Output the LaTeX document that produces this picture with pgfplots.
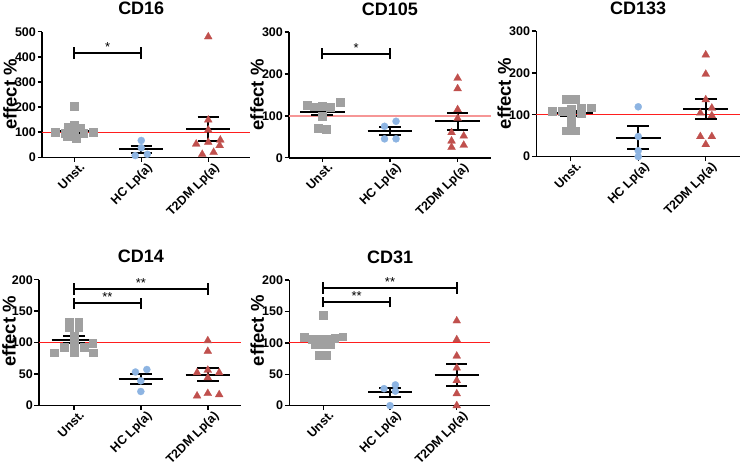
\documentclass[border=0pt]{standalone}
\usepackage{fontspec}
\setmainfont{Liberation Sans}
\usepackage{pgfplots}
\pgfplotsset{compat=1.18}
\definecolor{sqgray}{RGB}{160,160,160}
\definecolor{cblue}{RGB}{141,180,226}
\definecolor{tred}{RGB}{192,80,77}
\definecolor{lpink}{RGB}{246,150,150}
\definecolor{refred}{RGB}{255,30,30}
\pgfplotsset{
 cd/.style={
  scale only axis, clip=false, height=125.6pt, ymin=0,
  axis x line*=bottom, axis y line*=left,
  axis line style={line width=1.6pt, black},
  tick align=outside, major tick length=4.5pt,
  every tick/.style={black, line width=1.4pt},
  xtick={0,1,2}, xticklabels={Unst., HC Lp(a), T2DM Lp(a)},
  xticklabel style={xshift=5pt, yshift=1.5pt, rotate=45, anchor=north east, inner sep=1pt, font=\bfseries\fontsize{12.5}{15}\selectfont},
  yticklabel style={font=\bfseries\fontsize{12.5}{14}\selectfont, inner sep=1.5pt},
  /pgf/number format/assume math mode=true,
  ylabel={effect \%},
  every axis y label/.style={at={([xshift=-32pt]axis description cs:0,0.5)}, rotate=90, anchor=center, font=\bfseries\fontsize{18.5}{20}\selectfont},
  unbounded coords=jump,
 },
 gsq/.style={only marks, color=sqgray, mark=square*, mark size=3.9pt, mark options={draw=sqgray, fill=sqgray, line width=0.2pt}},
 bci/.style={only marks, color=cblue, mark=*, mark size=3.6pt, mark options={draw=cblue, fill=cblue, line width=0.2pt}},
 rtr/.style={only marks, color=tred, mark=triangle*, mark size=4.6pt, mark options={draw=tred, fill=tred, line width=0.2pt}},
 msem/.style={black, line width=2pt, mark=none},
 refl/.style={draw=refred, color=refred, line width=1.3pt, mark=none},
}
\newcommand{\ttl}[2]{\node[anchor=base, font=\bfseries\fontsize{18}{20}\selectfont] at ([yshift=17pt]axis cs:1,#1) {#2};}
\newcommand{\str}[3]{\node[anchor=base, inner sep=0pt, font=\fontsize{13}{13}\selectfont] at ([yshift=1.5pt]axis cs:#1,#2) {#3};}
\begin{document}
\begin{tikzpicture}
\useasboundingbox (0pt,0pt) rectangle (740pt,467pt);
% ---------------- CD16
\begin{axis}[cd, at={(42.1pt,309.7pt)}, anchor=south west, width=207.7pt,
  xmin=-0.48, xmax=2.62, ymax=500, ytick={0,100,200,300,400,500}]
\addplot[refl] coordinates {(-0.48,100) (2.62,100)};
\addplot[gsq] coordinates {(0,205) (0,129) (-0.09,122) (0.09,118) (-0.29,101) (0.28,100) (-0.14,97) (0.14,95) (0,103) (-0.11,83) (0.03,76)};
\addplot[bci] coordinates {(1,67) (0.91,7) (1.09,12) (1,38)};
\addplot[rtr] coordinates {(2,480) (2,149) (2,109) (2,60) (1.82,53) (2.18,69) (2.17,47) (1.91,12) (2.08,20)};
\addplot[msem] coordinates {(-0.33,105) (0.33,105) (nan,nan) (0,96) (0,115) (nan,nan) (-0.16,96) (0.16,96) (nan,nan) (-0.16,115) (0.16,115)};
\addplot[msem] coordinates {(0.67,32) (1.33,32) (nan,nan) (1,19) (1,46) (nan,nan) (0.84,19) (1.16,19) (nan,nan) (0.84,46) (1.16,46)};
\addplot[msem] coordinates {(1.67,112) (2.33,112) (nan,nan) (2,63) (2,161) (nan,nan) (1.84,63) (2.16,63) (nan,nan) (1.84,161) (2.16,161)};
\addplot[msem] coordinates {(0,393) (0,439) (nan,nan) (0,416) (1,416) (nan,nan) (1,393) (1,439)};
\str{0.5}{416}{*}
\ttl{500}{CD16}
\end{axis}
% ---------------- CD105
\begin{axis}[cd, at={(289.1pt,309.3pt)}, anchor=south west, width=201.7pt,
  xmin=-0.49, xmax=2.49, ymax=300, ytick={0,100,200,300}]
\addplot[lpink, line width=1.6pt] coordinates {(-0.49,100) (2.49,100)};
\addplot[gsq] coordinates {(-0.23,125) (-0.12,122) (0,124) (0.11,121) (0.26,132) (0,100) (-0.06,70) (0.06,69)};
\addplot[bci] coordinates {(0.92,75) (1.09,87) (0.92,45) (1.09,45)};
\addplot[rtr] coordinates {(2,190) (2,165) (2,115) (2,94) (1.91,60) (2.09,52) (1.91,40) (2.09,30) (1.91,25)};
\addplot[msem] coordinates {(-0.33,109) (0.33,109) (nan,nan) (0,102) (0,117) (nan,nan) (-0.16,102) (0.16,102) (nan,nan) (-0.16,117) (0.16,117)};
\addplot[msem] coordinates {(0.67,63) (1.33,63) (nan,nan) (1,54) (1,74) (nan,nan) (0.84,54) (1.16,54) (nan,nan) (0.84,74) (1.16,74)};
\addplot[msem] coordinates {(1.67,87) (2.33,87) (nan,nan) (2,67) (2,106) (nan,nan) (1.84,67) (2.16,67) (nan,nan) (1.84,106) (2.16,106)};
\addplot[msem] coordinates {(0,235) (0,262) (nan,nan) (0,248) (1,248) (nan,nan) (1,235) (1,262)};
\str{0.5}{248}{*}
\ttl{300}{CD105}
\end{axis}
% ---------------- CD133
\begin{axis}[cd, at={(536.3pt,310.4pt)}, anchor=south west, width=203.2pt,
  xmin=-0.51, xmax=2.5, ymax=300, ytick={0,100,200,300}]
\addplot[refl] coordinates {(-0.51,100) (2.5,100)};
\addplot[gsq] coordinates {(-0.07,138) (0.07,138) (-0.28,108) (-0.13,108) (0,114) (0.15,117) (0.3,117) (0,100) (0.15,103) (0,78) (-0.07,62) (0.07,62)};
\addplot[bci] coordinates {(1,119) (1,48) (1,14) (1,0)};
\addplot[rtr] coordinates {(2,243) (2,197) (2,136) (2.09,116) (1.92,104) (2.09,98) (1.92,48) (2.09,48) (2,29)};
\addplot[msem] coordinates {(-0.33,103) (0.33,103) (nan,nan) (0,97) (0,109) (nan,nan) (-0.16,97) (0.16,97) (nan,nan) (-0.16,109) (0.16,109)};
\addplot[msem] coordinates {(0.67,44) (1.33,44) (nan,nan) (1,18) (1,72) (nan,nan) (0.84,18) (1.16,18) (nan,nan) (0.84,72) (1.16,72)};
\addplot[msem] coordinates {(1.67,114) (2.33,114) (nan,nan) (2,90) (2,138) (nan,nan) (1.84,90) (2.16,90) (nan,nan) (1.84,138) (2.16,138)};
\ttl{300}{CD133}
\end{axis}
% ---------------- CD14
\begin{axis}[cd, at={(39pt,61.7pt)}, anchor=south west, width=202.3pt,
  xmin=-0.52, xmax=2.5, ymax=200, ytick={0,50,100,150,200},
  every axis y label/.append style={at={([xshift=-30pt,yshift=11pt]axis description cs:0,0.5)}}]
\addplot[refl] coordinates {(-0.52,100) (2.5,100)};
\addplot[gsq] coordinates {(-0.29,84) (0,84) (0.29,84) (-0.15,93) (0.15,93) (0,98) (0.28,99) (0,110) (-0.07,124) (0.07,124) (-0.07,133) (0.07,133)};
\addplot[bci] coordinates {(0.92,53) (1.09,57) (1,39) (1,22)};
\addplot[rtr] coordinates {(2,103) (2,86) (1.84,52) (2,56) (2.17,52) (2,44) (1.84,15) (2,19) (2.17,17)};
\addplot[msem] coordinates {(-0.33,104.5) (0.33,104.5) (nan,nan) (0,99) (0,110) (nan,nan) (-0.16,99) (0.16,99) (nan,nan) (-0.16,110) (0.16,110)};
\addplot[msem] coordinates {(0.67,42) (1.33,42) (nan,nan) (1,34) (1,50) (nan,nan) (0.84,34) (1.16,34) (nan,nan) (0.84,50) (1.16,50)};
\addplot[msem] coordinates {(1.67,49) (2.33,49) (nan,nan) (2,39) (2,60) (nan,nan) (1.84,39) (2.16,39) (nan,nan) (1.84,60) (2.16,60)};
\addplot[msem] coordinates {(0,175.5) (0,194.5) (nan,nan) (0,185) (2,185) (nan,nan) (2,175.5) (2,194.5)};
\addplot[msem] coordinates {(0,153.5) (0,170.5) (nan,nan) (0,162.5) (1,162.5) (nan,nan) (1,153.5) (1,170.5)};
\str{1}{185}{**}
\str{0.5}{162.5}{**}
\ttl{200}{CD14}
\end{axis}
% ---------------- CD31
\begin{axis}[cd, at={(289.3pt,61.4pt)}, anchor=south west, width=200.8pt,
  xmin=-0.51, xmax=2.5, ymax=200, ytick={0,50,100,150,200},
  every axis y label/.append style={at={([xshift=-32pt,yshift=12pt]axis description cs:0,0.5)}}]
\addplot[refl] coordinates {(-0.51,100) (2.5,100)};
\addplot[gsq] coordinates {(0,144) (-0.29,109) (-0.17,106) (-0.05,106) (0.05,106) (0.17,107) (0.29,110) (-0.12,97) (0,97) (0.11,97) (-0.07,81) (0.05,81)};
\addplot[bci] coordinates {(0.91,27) (1.08,33) (1.08,23) (1,0)};
\addplot[rtr] coordinates {(2,135) (2,105) (2,79) (2,60) (2,40) (2,19) (2,0)};
\addplot[msem] coordinates {(-0.33,104) (0.33,104) (nan,nan) (0,100) (0,108) (nan,nan) (-0.16,100) (0.16,100) (nan,nan) (-0.16,108) (0.16,108)};
\addplot[msem] coordinates {(0.67,21) (1.33,21) (nan,nan) (1,13) (1,28) (nan,nan) (0.84,13) (1.16,13) (nan,nan) (0.84,28) (1.16,28)};
\addplot[msem] coordinates {(1.67,49) (2.33,49) (nan,nan) (2,32) (2,66) (nan,nan) (1.84,32) (2.16,32) (nan,nan) (1.84,66) (2.16,66)};
\addplot[msem] coordinates {(0,178.5) (0,197.5) (nan,nan) (0,188) (2,188) (nan,nan) (2,178.5) (2,197.5)};
\addplot[msem] coordinates {(0,156.5) (0,173.5) (nan,nan) (0,165) (1,165) (nan,nan) (1,156.5) (1,173.5)};
\str{1}{188}{**}
\str{0.5}{165}{**}
\ttl{200}{CD31}
\end{axis}
\end{tikzpicture}
\end{document}
